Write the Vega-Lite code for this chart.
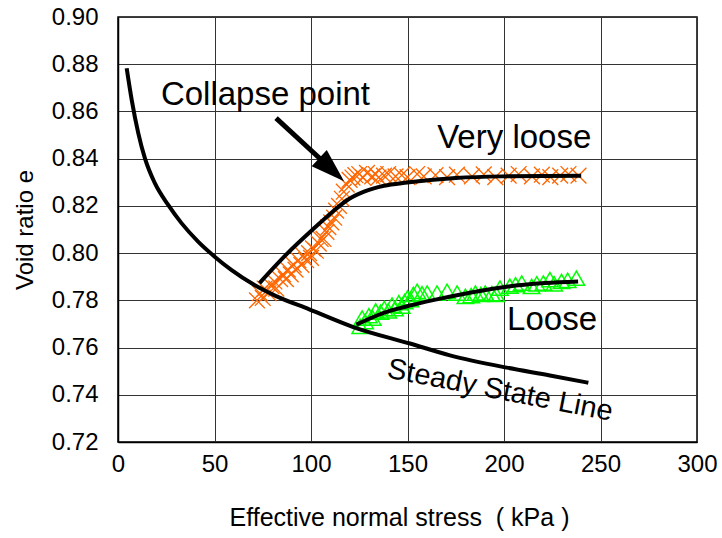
{
  "$schema": "https://vega.github.io/schema/vega-lite/v6.json",
  "width": 579,
  "height": 425,
  "autosize": "none",
  "padding": {"left": 118, "top": 17, "right": 25, "bottom": 96},
  "background": "white",
  "config": {
    "font": "Liberation Sans",
    "view": {"stroke": "black", "strokeWidth": 1.5},
    "axis": {
      "labelFont": "Liberation Sans",
      "titleFont": "Liberation Sans",
      "labelColor": "black",
      "titleColor": "black",
      "titleFontWeight": "normal",
      "gridColor": "#333333",
      "gridWidth": 1,
      "gridOpacity": 1,
      "domainColor": "black",
      "domainWidth": 1.5,
      "ticks": false
    }
  },
  "datasets": {
    "curves": [
      {"curve": "ssl", "stress": 4.5, "e": 0.8783},
      {"curve": "ssl", "stress": 7.1, "e": 0.8649},
      {"curve": "ssl", "stress": 10.5, "e": 0.8508},
      {"curve": "ssl", "stress": 14, "e": 0.840},
      {"curve": "ssl", "stress": 19.1, "e": 0.8296},
      {"curve": "ssl", "stress": 26, "e": 0.8204},
      {"curve": "ssl", "stress": 32.9, "e": 0.8127},
      {"curve": "ssl", "stress": 41.5, "e": 0.8049},
      {"curve": "ssl", "stress": 50.1, "e": 0.7985},
      {"curve": "ssl", "stress": 58.7, "e": 0.7929},
      {"curve": "ssl", "stress": 70.7, "e": 0.7865},
      {"curve": "ssl", "stress": 81.9, "e": 0.7818},
      {"curve": "ssl", "stress": 99.1, "e": 0.7762},
      {"curve": "ssl", "stress": 121.9, "e": 0.7687},
      {"curve": "ssl", "stress": 151.3, "e": 0.7617},
      {"curve": "ssl", "stress": 172, "e": 0.7567},
      {"curve": "ssl", "stress": 201.4, "e": 0.7515},
      {"curve": "ssl", "stress": 223.8, "e": 0.7482},
      {"curve": "ssl", "stress": 243.7, "e": 0.7451},
      {"curve": "vl", "stress": 73.3, "e": 0.7873},
      {"curve": "vl", "stress": 87.9, "e": 0.800},
      {"curve": "vl", "stress": 101.7, "e": 0.8106},
      {"curve": "vl", "stress": 110.3, "e": 0.8169},
      {"curve": "vl", "stress": 118.9, "e": 0.8225},
      {"curve": "vl", "stress": 127.5, "e": 0.826},
      {"curve": "vl", "stress": 137.8, "e": 0.8285},
      {"curve": "vl", "stress": 149.8, "e": 0.8299},
      {"curve": "vl", "stress": 175, "e": 0.8318},
      {"curve": "vl", "stress": 198.8, "e": 0.8325},
      {"curve": "vl", "stress": 240, "e": 0.8328},
      {"curve": "l", "stress": 123.5, "e": 0.7697},
      {"curve": "l", "stress": 137, "e": 0.7745},
      {"curve": "l", "stress": 150.7, "e": 0.7777},
      {"curve": "l", "stress": 164.5, "e": 0.7803},
      {"curve": "l", "stress": 181.7, "e": 0.7831},
      {"curve": "l", "stress": 202.3, "e": 0.7859},
      {"curve": "l", "stress": 221.3, "e": 0.7873},
      {"curve": "l", "stress": 238.4, "e": 0.788}
    ],
    "veryLoose": [
      {"stress": 72, "e": 0.780}, {"stress": 73.5, "e": 0.783}, {"stress": 75, "e": 0.781},
      {"stress": 76, "e": 0.785}, {"stress": 78, "e": 0.783}, {"stress": 79.5, "e": 0.786},
      {"stress": 81, "e": 0.788}, {"stress": 82, "e": 0.785}, {"stress": 84, "e": 0.789},
      {"stress": 85.5, "e": 0.791}, {"stress": 87, "e": 0.789}, {"stress": 88, "e": 0.793},
      {"stress": 89.5, "e": 0.791}, {"stress": 91, "e": 0.795}, {"stress": 92, "e": 0.793},
      {"stress": 93.5, "e": 0.797}, {"stress": 95, "e": 0.795}, {"stress": 96, "e": 0.799},
      {"stress": 97.5, "e": 0.797}, {"stress": 99, "e": 0.800}, {"stress": 100, "e": 0.798},
      {"stress": 101, "e": 0.802}, {"stress": 102.5, "e": 0.801}, {"stress": 104, "e": 0.804},
      {"stress": 105, "e": 0.806}, {"stress": 106.5, "e": 0.806}, {"stress": 108, "e": 0.809},
      {"stress": 109, "e": 0.811}, {"stress": 110.5, "e": 0.813}, {"stress": 112, "e": 0.815},
      {"stress": 113, "e": 0.818}, {"stress": 114.5, "e": 0.820}, {"stress": 116, "e": 0.823},
      {"stress": 117, "e": 0.826}, {"stress": 118.5, "e": 0.829}, {"stress": 120, "e": 0.831},
      {"stress": 121.5, "e": 0.832}, {"stress": 123, "e": 0.833}, {"stress": 125, "e": 0.8335},
      {"stress": 127, "e": 0.832}, {"stress": 129, "e": 0.834}, {"stress": 131.7, "e": 0.8325},
      {"stress": 133.5, "e": 0.8335}, {"stress": 135, "e": 0.832}, {"stress": 137.8, "e": 0.8328},
      {"stress": 140, "e": 0.8335}, {"stress": 143.8, "e": 0.8325}, {"stress": 147, "e": 0.833},
      {"stress": 150, "e": 0.8322}, {"stress": 155, "e": 0.8335}, {"stress": 158.4, "e": 0.8325},
      {"stress": 164.5, "e": 0.833}, {"stress": 170.5, "e": 0.8322}, {"stress": 175.6, "e": 0.8332},
      {"stress": 183.4, "e": 0.8325}, {"stress": 189.5, "e": 0.8333}, {"stress": 195.5, "e": 0.8322},
      {"stress": 202.4, "e": 0.8328}, {"stress": 207.6, "e": 0.8335}, {"stress": 214.5, "e": 0.8325},
      {"stress": 219.6, "e": 0.8332}, {"stress": 224, "e": 0.8322}, {"stress": 229.1, "e": 0.8328},
      {"stress": 233.4, "e": 0.8335}, {"stress": 238.6, "e": 0.8328}
    ],
    "loose": [
      {"stress": 125.5, "e": 0.769}, {"stress": 126.5, "e": 0.7725}, {"stress": 128, "e": 0.771},
      {"stress": 130, "e": 0.7735}, {"stress": 132, "e": 0.7725}, {"stress": 133.5, "e": 0.7755},
      {"stress": 136, "e": 0.775}, {"stress": 138, "e": 0.7765}, {"stress": 140, "e": 0.7755},
      {"stress": 142, "e": 0.778}, {"stress": 143.5, "e": 0.7765}, {"stress": 145.5, "e": 0.779},
      {"stress": 147, "e": 0.7775}, {"stress": 148.5, "e": 0.7795}, {"stress": 150, "e": 0.781},
      {"stress": 151.5, "e": 0.7803}, {"stress": 153, "e": 0.7825}, {"stress": 155, "e": 0.7838},
      {"stress": 157.5, "e": 0.7828}, {"stress": 160.2, "e": 0.7831}, {"stress": 165.3, "e": 0.7831},
      {"stress": 170.5, "e": 0.7838}, {"stress": 175.7, "e": 0.7831}, {"stress": 180, "e": 0.7817},
      {"stress": 183, "e": 0.782}, {"stress": 185.2, "e": 0.7831}, {"stress": 188, "e": 0.7825},
      {"stress": 190.3, "e": 0.7831}, {"stress": 193.7, "e": 0.7828}, {"stress": 196, "e": 0.7825},
      {"stress": 197.9, "e": 0.7852}, {"stress": 203, "e": 0.786}, {"stress": 206, "e": 0.7866},
      {"stress": 209.2, "e": 0.7873}, {"stress": 214.3, "e": 0.7859}, {"stress": 217, "e": 0.787},
      {"stress": 220.4, "e": 0.7873}, {"stress": 223.8, "e": 0.7888}, {"stress": 226, "e": 0.787},
      {"stress": 229.8, "e": 0.788}, {"stress": 233, "e": 0.7885}, {"stress": 237.5, "e": 0.7894}
    ],
    "arrow": [
      {"stress": 81.9, "e": 0.8572, "stress2": 106, "e2": 0.839}
    ],
    "arrowHead": [
      {"stress": 110.7, "e": 0.8353}
    ],
    "labels": [
      {"stress": 76.4, "e": 0.8628, "text": "Collapse point"},
      {"stress": 205.3, "e": 0.8445, "text": "Very loose"},
      {"stress": 224.9, "e": 0.7675, "text": "Loose"}
    ],
    "sslLabel": [
      {"stress": 197.1, "e": 0.7382, "text": "Steady State Line"}
    ]
  },
  "encoding": {
    "x": {
      "field": "stress", "type": "quantitative",
      "scale": {"domain": [0, 300], "nice": false, "zero": false},
      "axis": {
        "values": [0, 50, 100, 150, 200, 250, 300],
        "title": "Effective normal stress\u00a0\u00a0( kPa )",
        "labelFontSize": 24, "titleFontSize": 25,
        "labelPadding": 10, "titlePadding": 29,
        "titleX": 281, "titleAlign": "center",
        "labelFlush": false
      }
    },
    "y": {
      "field": "e", "type": "quantitative",
      "scale": {"domain": [0.72, 0.90], "nice": false, "zero": false},
      "axis": {
        "values": [0.72, 0.74, 0.76, 0.78, 0.80, 0.82, 0.84, 0.86, 0.88, 0.90],
        "format": ".2f",
        "title": "Void ratio e",
        "labelFontSize": 24, "titleFontSize": 24,
        "labelPadding": 20, "titlePadding": 14,
        "labelFlush": false
      }
    }
  },
  "layer": [
    {
      "data": {"name": "veryLoose"},
      "mark": {"type": "point", "shape": "M-1,-1L1,1M-1,1L1,-1", "filled": false, "color": "#FF6600", "strokeWidth": 1.3, "size": 250, "opacity": 1}
    },
    {
      "data": {"name": "loose"},
      "mark": {"type": "point", "shape": "triangle-up", "filled": false, "color": "#00FF00", "strokeWidth": 1.5, "size": 270, "opacity": 1}
    },
    {
      "data": {"name": "curves"},
      "mark": {"type": "line", "color": "black", "strokeWidth": 4, "interpolate": "monotone"},
      "encoding": {"detail": {"field": "curve"}}
    },
    {
      "data": {"name": "arrow"},
      "mark": {"type": "rule", "color": "black", "strokeWidth": 5},
      "encoding": {"x2": {"field": "stress2"}, "y2": {"field": "e2"}}
    },
    {
      "data": {"name": "arrowHead"},
      "mark": {"type": "point", "shape": "M0,-1L0.65,1L-0.65,1Z", "filled": true, "color": "black", "size": 1156, "angle": 133, "opacity": 1, "strokeWidth": 0}
    },
    {
      "data": {"name": "labels"},
      "mark": {"type": "text", "fontSize": 33, "font": "Liberation Sans", "align": "center", "baseline": "alphabetic", "color": "black"},
      "encoding": {"text": {"field": "text"}}
    },
    {
      "data": {"name": "sslLabel"},
      "mark": {"type": "text", "fontSize": 29, "font": "Liberation Sans", "align": "center", "baseline": "alphabetic", "color": "black", "angle": 11},
      "encoding": {"text": {"field": "text"}}
    }
  ]
}
